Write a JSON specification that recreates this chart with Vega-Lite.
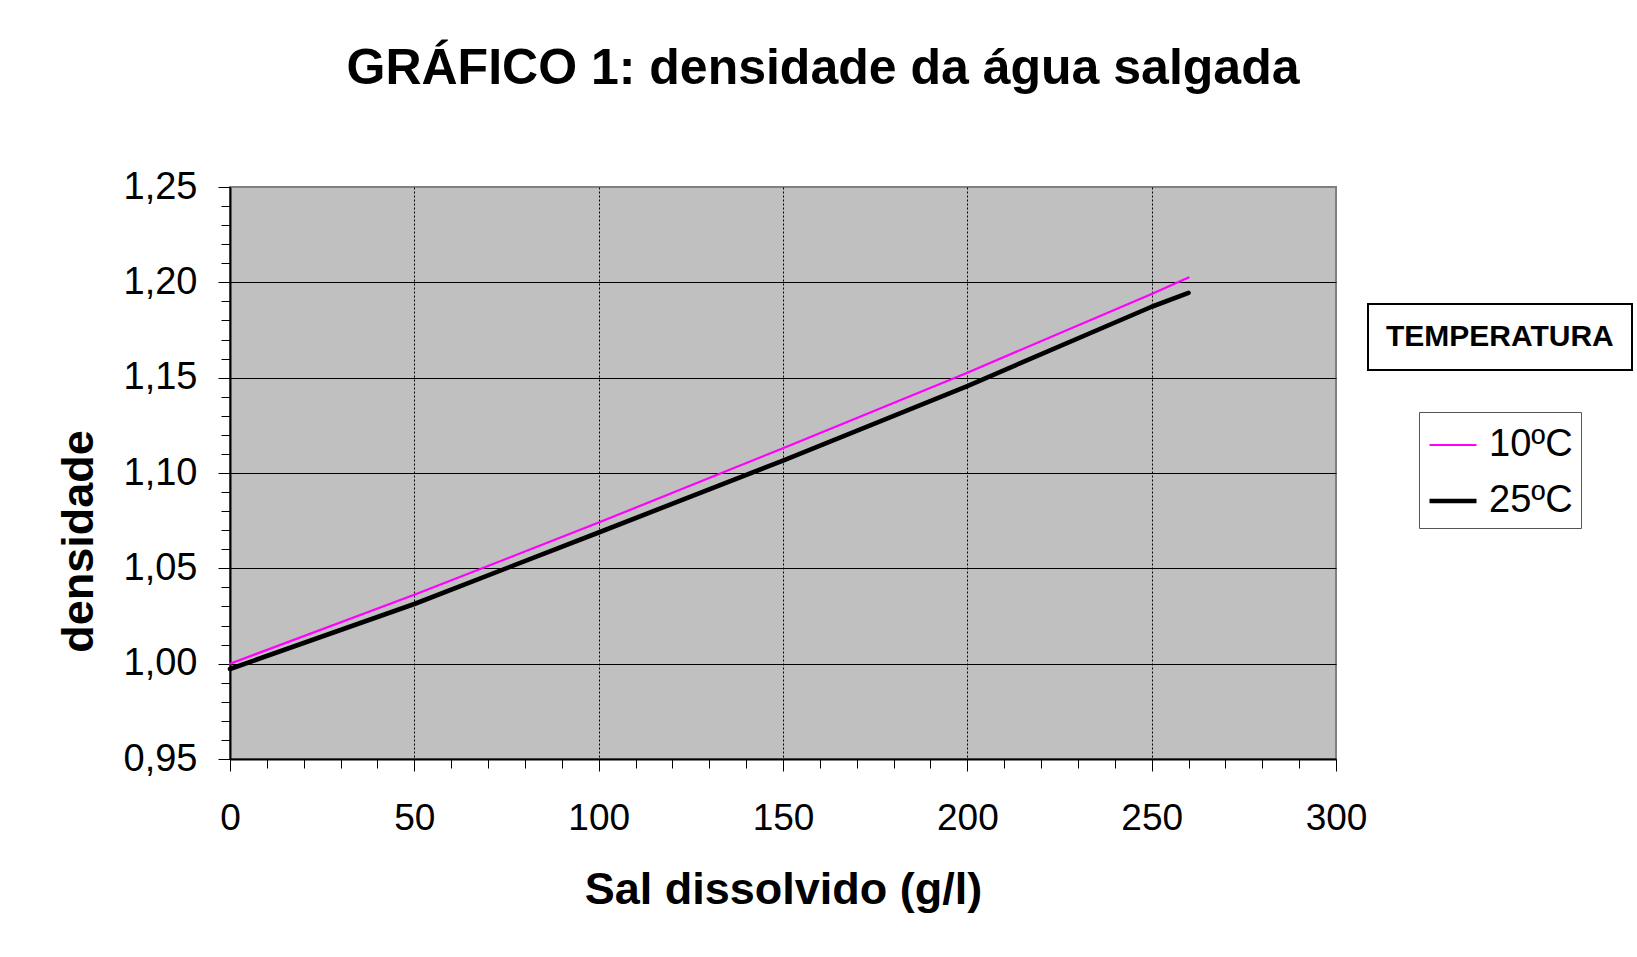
{
  "$schema": "https://vega.github.io/schema/vega-lite/v6.json",
  "autosize": {"type": "none"},
  "padding": {"left": 230, "top": 187, "right": 301, "bottom": 198},
  "width": 1106,
  "height": 572,
  "background": "white",
  "config": {
    "font": "Liberation Sans",
    "view": {"fill": "#C0C0C0", "stroke": "#808080", "strokeWidth": 2}
  },
  "title": {
    "text": "GRÁFICO 1: densidade da água salgada",
    "font": "Liberation Sans",
    "fontSize": 50,
    "fontWeight": "bold",
    "color": "#000000",
    "anchor": "middle",
    "frame": "group",
    "dx": 40,
    "baseline": "alphabetic",
    "offset": 34
  },
  "data": {
    "values": [
      {"sal": 0, "densidade": 0.9972, "temp": "25ºC"},
      {"sal": 50, "densidade": 1.0313, "temp": "25ºC"},
      {"sal": 100, "densidade": 1.0688, "temp": "25ºC"},
      {"sal": 150, "densidade": 1.1065, "temp": "25ºC"},
      {"sal": 200, "densidade": 1.1456, "temp": "25ºC"},
      {"sal": 250, "densidade": 1.1872, "temp": "25ºC"},
      {"sal": 260, "densidade": 1.1945, "temp": "25ºC"},
      {"sal": 0, "densidade": 1.0000, "temp": "10ºC"},
      {"sal": 50, "densidade": 1.0361, "temp": "10ºC"},
      {"sal": 100, "densidade": 1.0740, "temp": "10ºC"},
      {"sal": 150, "densidade": 1.1130, "temp": "10ºC"},
      {"sal": 200, "densidade": 1.1526, "temp": "10ºC"},
      {"sal": 250, "densidade": 1.1939, "temp": "10ºC"},
      {"sal": 260, "densidade": 1.2025, "temp": "10ºC"}
    ]
  },
  "mark": {"type": "line", "strokeCap": "round", "strokeJoin": "round"},
  "encoding": {
    "x": {
      "field": "sal",
      "type": "quantitative",
      "scale": {"domain": [0, 300], "nice": false, "zero": false},
      "axis": {
        "values": [0,10,20,30,40,50,60,70,80,90,100,110,120,130,140,150,160,170,180,190,200,210,220,230,240,250,260,270,280,290,300],
        "labelExpr": "datum.value % 50 == 0 ? format(datum.value, 'd') : ''",
        "labelOverlap": false,
        "labelFont": "Liberation Sans",
        "labelFontSize": 37,
        "labelColor": "#000000",
        "labelPadding": 29,
        "labelFlush": false,
        "domainColor": "#000000",
        "domainWidth": 2,
        "tickColor": "#000000",
        "tickWidth": 1,
        "tickSize": {"condition": {"test": "datum.value % 50 == 0", "value": 12}, "value": 9},
        "grid": true,
        "gridColor": "#000000",
        "gridWidth": 1,
        "gridDash": [2, 2],
        "gridOpacity": {"condition": {"test": "datum.value % 50 == 0 && datum.value > 0 && datum.value < 300", "value": 1}, "value": 0},
        "title": "Sal dissolvido (g/l)",
        "titleFont": "Liberation Sans",
        "titleFontSize": 45,
        "titleFontWeight": "bold",
        "titleColor": "#000000",
        "titleBaseline": "alphabetic",
        "titleY": 144
      }
    },
    "y": {
      "field": "densidade",
      "type": "quantitative",
      "scale": {"domain": [0.95, 1.25], "nice": false, "zero": false},
      "axis": {
        "values": [0.95,0.96,0.97,0.98,0.99,1.00,1.01,1.02,1.03,1.04,1.05,1.06,1.07,1.08,1.09,1.10,1.11,1.12,1.13,1.14,1.15,1.16,1.17,1.18,1.19,1.20,1.21,1.22,1.23,1.24,1.25],
        "labelExpr": "round(datum.value * 100) % 5 == 0 ? replace(format(datum.value, '.2f'), '.', ',') : ''",
        "labelOverlap": false,
        "labelFont": "Liberation Sans",
        "labelFontSize": 38,
        "labelColor": "#000000",
        "labelPadding": 21,
        "labelFlush": false,
        "domainColor": "#000000",
        "domainWidth": 2,
        "tickColor": "#000000",
        "tickWidth": 1,
        "tickSize": {"condition": {"test": "round(datum.value * 100) % 5 == 0", "value": 12}, "value": 9},
        "grid": true,
        "gridColor": "#000000",
        "gridWidth": 1,
        "gridOpacity": {"condition": {"test": "round(datum.value * 100) % 5 == 0 && datum.value > 0.955 && datum.value < 1.245", "value": 1}, "value": 0},
        "title": "densidade",
        "titleFont": "Liberation Sans",
        "titleFontSize": 45,
        "titleFontWeight": "bold",
        "titleColor": "#000000",
        "titleAngle": -90,
        "titleAlign": "center",
        "titleBaseline": "alphabetic",
        "titleX": -138,
        "titleY": 354
      }
    },
    "color": {
      "field": "temp",
      "type": "nominal",
      "scale": {"domain": ["10ºC", "25ºC"], "range": ["#FF00FF", "#000000"]},
      "legend": {
        "title": null,
        "orient": "none",
        "legendX": 1189,
        "legendY": 225,
        "fillColor": "#FFFFFF",
        "strokeColor": "#555555",
        "padding": 8,
        "symbolType": "stroke",
        "symbolSize": 2209,
        "labelFont": "Liberation Sans",
        "labelFontSize": 38,
        "labelColor": "#000000",
        "labelOffset": 10,
        "rowPadding": 11
      }
    },
    "strokeWidth": {
      "field": "temp",
      "type": "nominal",
      "scale": {"domain": ["10ºC", "25ºC"], "range": [2.2, 4.6]},
      "legend": {
        "title": null,
        "orient": "none",
        "legendX": 1189,
        "legendY": 225,
        "fillColor": "#FFFFFF",
        "strokeColor": "#555555",
        "padding": 8,
        "symbolType": "stroke",
        "symbolSize": 2209,
        "labelFont": "Liberation Sans",
        "labelFontSize": 38,
        "labelColor": "#000000",
        "labelOffset": 10,
        "rowPadding": 11
      }
    },
    "opacity": {
      "datum": "TEMPERATURA",
      "type": "nominal",
      "scale": {"domain": ["TEMPERATURA"], "range": [1]},
      "legend": {
        "title": "TEMPERATURA",
        "values": [],
        "orient": "none",
        "legendX": 1138,
        "legendY": 117,
        "fillColor": "#FFFFFF",
        "strokeColor": "#000000",
        "padding": 18,
        "titlePadding": 0,
        "titleLimit": 500,
        "titleFont": "Liberation Sans",
        "titleFontSize": 30,
        "titleFontWeight": "bold",
        "titleColor": "#000000",
        "encode": {"legend": {"update": {"strokeWidth": {"value": 2}}}}
      }
    }
  }
}
